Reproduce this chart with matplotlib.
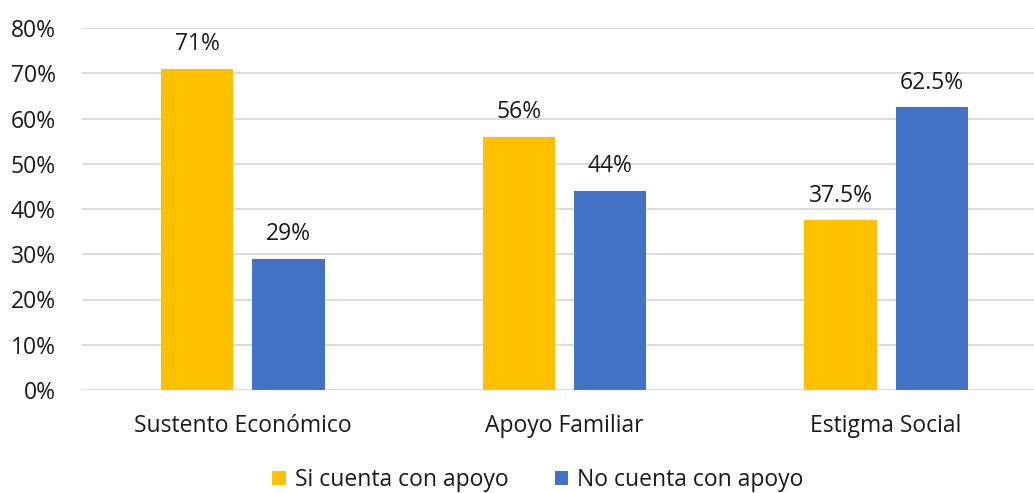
import matplotlib.pyplot as plt
import numpy as np

categories = ["Sustento Económico", "Apoyo Familiar", "Estigma Social"]
si_apoyo = [71, 56, 37.5]
no_apoyo = [29, 44, 62.5]
si_labels = ["71%", "56%", "37.5%"]
no_labels = ["29%", "44%", "62.5%"]
series_names = ["Si cuenta con apoyo", "No cuenta con apoyo"]

plt.rcParams['font.family'] = ['Open Sans', 'DejaVu Sans']
FS = 16.5

fig = plt.figure(figsize=(10.34, 4.93), dpi=100)
# axes run a little past the right edge, as in the reference
ax = fig.add_axes([82 / 1034, 103 / 493, 965 / 1034, 362 / 493])

x = np.arange(len(categories))
w = 0.224
off = 0.142
b1 = ax.bar(x - off, si_apoyo, w, color="#FFC000", label=series_names[0], zorder=3)
b2 = ax.bar(x + off, no_apoyo, w, color="#4472C4", label=series_names[1], zorder=3)

for bars, labs in ((b1, si_labels), (b2, no_labels)):
    for rect, lab in zip(bars, labs):
        ax.annotate(lab, (rect.get_x() + rect.get_width() / 2, rect.get_height()),
                    xytext=(0, 9), textcoords="offset points",
                    ha="center", va="bottom", fontsize=FS, color="#1a1a1a")

ax.set_xlim(-0.5, 2.5)
ax.set_ylim(0, 80)
ax.set_yticks(range(0, 81, 10))
ax.set_yticklabels([f"{v}%" for v in range(0, 81, 10)])
ax.set_xticks(x)
ax.set_xticklabels(categories)
ax.tick_params(axis="both", length=0, labelsize=FS, colors="#1a1a1a")
ax.tick_params(axis="y", pad=19)
ax.tick_params(axis="x", pad=17)
ax.grid(axis="y", color="#D9D9D9", linewidth=1.3, zorder=0)
for s in ax.spines.values():
    s.set_visible(False)

fig.legend(handles=[b1, b2], loc="center", bbox_to_anchor=(538 / 1034, 1 - 480 / 493),
           ncol=2, frameon=False, fontsize=FS, handlelength=0.6, handleheight=0.6,
           handletextpad=0.4, columnspacing=2.0, labelcolor="#1a1a1a")

fig.savefig("out.png", dpi=100)
